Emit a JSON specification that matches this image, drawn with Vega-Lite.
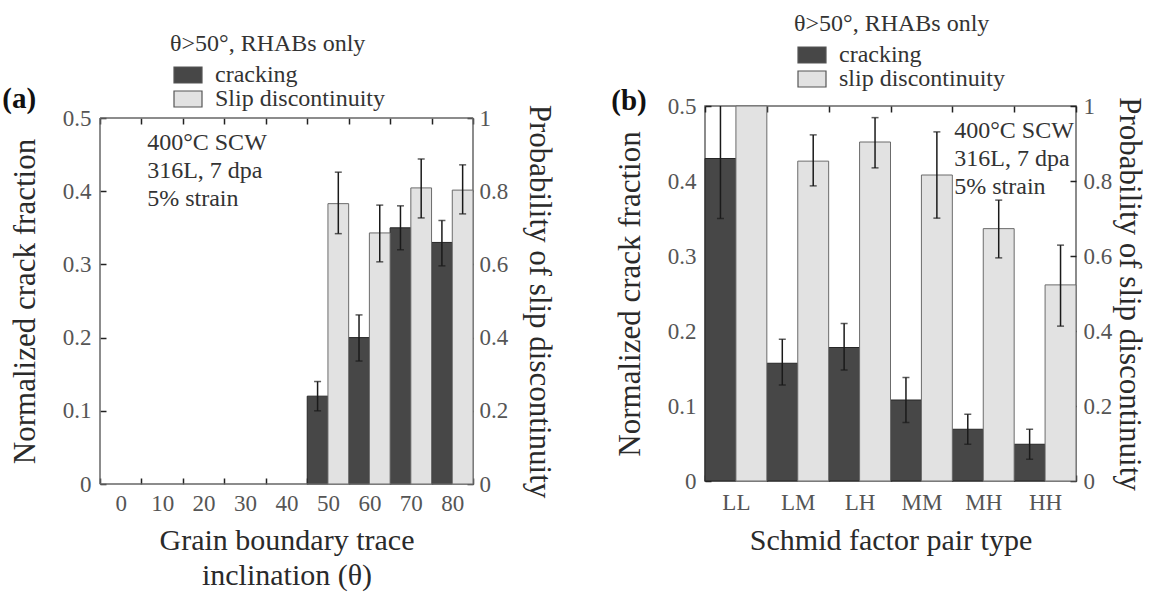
{
  "$schema": "https://vega.github.io/schema/vega-lite/v6.json",
  "background": "white",
  "padding": {"left": 2, "top": 11, "right": 5, "bottom": 5},
  "config": {
    "font": "Liberation Serif",
    "view": {"stroke": "#666", "strokeWidth": 1.5},
    "axis": {
      "grid": false, "domain": false, "ticks": true, "zindex": 1, "offset": -6,
      "labelFont": "Liberation Serif", "titleFont": "Liberation Serif",
      "labelFontSize": 23, "titleFontSize": 30, "titleFontWeight": "normal",
      "labelColor": "#555", "titleColor": "#2a2a2a",
      "tickColor": "#222", "tickSize": 6, "tickWidth": 1.5, "tickOpacity": 1
    },
    "axisY": {"titleFontSize": 31},
    "legend": {
      "labelFont": "Liberation Serif", "titleFont": "Liberation Serif",
      "labelFontSize": 24, "titleFontSize": 24, "titleFontWeight": "normal",
      "labelColor": "#333", "titleColor": "#333", "labelLimit": 0, "titleLimit": 0,
      "symbolType": "M-1.75,-1H1.75V1H-1.75Z", "symbolSize": 256,
      "symbolStrokeColor": "#555", "symbolStrokeWidth": 1.2,
      "symbolOffset": 6, "labelOffset": 15, "rowPadding": 0, "titlePadding": 7
    },
    "title": {"font": "Liberation Serif", "fontSize": 29, "fontWeight": "bold", "color": "#111", "anchor": "start", "frame": "bounds"}
  },
  "datasets": {
    "a": [
      {"cat": "50", "series": "cracking", "value": 0.12, "lo": 0.10, "hi": 0.14},
      {"cat": "60", "series": "cracking", "value": 0.20, "lo": 0.168, "hi": 0.231},
      {"cat": "70", "series": "cracking", "value": 0.35, "lo": 0.32, "hi": 0.38},
      {"cat": "80", "series": "cracking", "value": 0.33, "lo": 0.298, "hi": 0.36},
      {"cat": "50", "series": "Slip discontinuity", "value": 0.766, "lo": 0.684, "hi": 0.852},
      {"cat": "60", "series": "Slip discontinuity", "value": 0.686, "lo": 0.607, "hi": 0.762},
      {"cat": "70", "series": "Slip discontinuity", "value": 0.809, "lo": 0.727, "hi": 0.888},
      {"cat": "80", "series": "Slip discontinuity", "value": 0.803, "lo": 0.738, "hi": 0.872}
    ],
    "b": [
      {"cat": "LL", "series": "cracking", "value": 0.43, "lo": 0.35, "hi": 0.51},
      {"cat": "LM", "series": "cracking", "value": 0.157, "lo": 0.128, "hi": 0.189},
      {"cat": "LH", "series": "cracking", "value": 0.178, "lo": 0.148, "hi": 0.21},
      {"cat": "MM", "series": "cracking", "value": 0.108, "lo": 0.078, "hi": 0.138},
      {"cat": "MH", "series": "cracking", "value": 0.069, "lo": 0.049, "hi": 0.089},
      {"cat": "HH", "series": "cracking", "value": 0.049, "lo": 0.029, "hi": 0.069},
      {"cat": "LL", "series": "slip discontinuity", "value": 1.0, "lo": null, "hi": null},
      {"cat": "LM", "series": "slip discontinuity", "value": 0.853, "lo": 0.787, "hi": 0.923},
      {"cat": "LH", "series": "slip discontinuity", "value": 0.904, "lo": 0.835, "hi": 0.969},
      {"cat": "MM", "series": "slip discontinuity", "value": 0.816, "lo": 0.701, "hi": 0.931},
      {"cat": "MH", "series": "slip discontinuity", "value": 0.673, "lo": 0.595, "hi": 0.749},
      {"cat": "HH", "series": "slip discontinuity", "value": 0.523, "lo": 0.413, "hi": 0.629}
    ]
  },
  "hconcat": [
    {
      "title": {"text": "(a)", "dy": 86, "dx": -7},
      "width": 373,
      "height": 378,
      "view": {"stroke": null},
      "layer": [
        {
          "layer": [
            {
              "data": {"name": "a"},
              "transform": [{"filter": "datum.series === 'cracking'"}],
              "mark": {"type": "bar", "stroke": "#262626", "strokeWidth": 1},
              "encoding": {
                "x": {"field": "cat", "type": "nominal", "scale": {"domain": ["0","10","20","30","40","50","60","70","80"], "paddingInner": 0, "paddingOuter": 0},
                      "axis": {"orient": "bottom", "title": ["Grain boundary trace", "inclination (θ)"], "labelAngle": 0, "tickBand": "extent", "labelPadding": 8, "titlePadding": 10, "titleLineHeight": 35}},
                "xOffset": {"field": "series", "type": "nominal", "scale": {"domain": ["cracking", "Slip discontinuity"], "paddingInner": 0, "paddingOuter": 0}},
                "y": {"field": "value", "type": "quantitative", "title": "Normalized crack fraction", "scale": {"domain": [0, 0.5], "nice": false, "range": [378, 12]},
                      "axis": {"orient": "left", "values": [0, 0.1, 0.2, 0.3, 0.4, 0.5], "format": ".1~f", "labelPadding": 9, "titlePadding": 21}},
                "color": {"field": "series", "type": "nominal", "scale": {"domain": ["cracking", "Slip discontinuity"], "range": ["#474747", "#e2e2e2"]},
                          "legend": {"orient": "none", "legendX": 70, "legendY": -74, "title": "θ>50°, RHABs only"}}
              }
            },
            {
              "data": {"name": "a"},
              "transform": [{"filter": "datum.series === 'cracking'"}],
              "mark": {"type": "rule", "color": "#1a1a1a", "strokeWidth": 1.5},
              "encoding": {
                "x": {"field": "cat", "type": "nominal"},
                "xOffset": {"field": "series", "type": "nominal"},
                "y": {"field": "lo", "type": "quantitative", "title": "Normalized crack fraction"},
                "y2": {"field": "hi"}
              }
            },
            {
              "data": {"name": "a"},
              "transform": [{"filter": "datum.series === 'cracking'"}],
              "mark": {"type": "tick", "color": "#1a1a1a", "thickness": 1.5, "size": 7, "orient": "horizontal"},
              "encoding": {
                "x": {"field": "cat", "type": "nominal"},
                "xOffset": {"field": "series", "type": "nominal"},
                "y": {"field": "lo", "type": "quantitative", "title": "Normalized crack fraction"}
              }
            },
            {
              "data": {"name": "a"},
              "transform": [{"filter": "datum.series === 'cracking'"}],
              "mark": {"type": "tick", "color": "#1a1a1a", "thickness": 1.5, "size": 7, "orient": "horizontal"},
              "encoding": {
                "x": {"field": "cat", "type": "nominal"},
                "xOffset": {"field": "series", "type": "nominal"},
                "y": {"field": "hi", "type": "quantitative", "title": "Normalized crack fraction"}
              }
            },
            {
              "data": {"values": [{}]},
              "mark": {"type": "text", "align": "left", "baseline": "top", "fontSize": 24, "lineHeight": 28, "dx": -15, "color": "#333", "font": "Liberation Serif"},
              "encoding": {
                "x": {"datum": "10", "type": "nominal"},
                "y": {"datum": 0.482, "type": "quantitative"},
                "text": {"value": ["400°C SCW", "316L, 7 dpa", "5% strain"]}
              }
            },
            {
              "data": {"values": [{}]},
              "mark": {"type": "rule", "color": "#666", "strokeWidth": 1.5},
              "encoding": {"y": {"datum": 0.5, "type": "quantitative"}}
            },
            {
              "data": {"values": [{}]},
              "mark": {"type": "rule", "color": "#666", "strokeWidth": 1.5},
              "encoding": {"y": {"datum": 0, "type": "quantitative"}}
            },
            {
              "data": {"values": [{}]},
              "mark": {"type": "rule", "color": "#666", "strokeWidth": 1.5},
              "encoding": {
                "x": {"datum": "0", "type": "nominal", "bandPosition": 0},
                "y": {"datum": 0, "type": "quantitative"},
                "y2": {"datum": 0.5}
              }
            },
            {
              "data": {"values": [{}]},
              "mark": {"type": "rule", "color": "#666", "strokeWidth": 1.5},
              "encoding": {
                "x": {"datum": "80", "type": "nominal", "bandPosition": 1},
                "y": {"datum": 0, "type": "quantitative"},
                "y2": {"datum": 0.5}
              }
            }
          ]
        },
        {
          "layer": [
            {
              "data": {"name": "a"},
              "transform": [{"filter": "datum.series !== 'cracking'"}],
              "mark": {"type": "bar", "stroke": "#6b6b6b", "strokeWidth": 1},
              "encoding": {
                "x": {"field": "cat", "type": "nominal", "scale": {"domain": ["0","10","20","30","40","50","60","70","80"], "paddingInner": 0, "paddingOuter": 0},
                      "axis": {"orient": "top", "offset": -18, "title": null, "labels": false, "tickBand": "extent"}},
                "xOffset": {"field": "series", "type": "nominal", "scale": {"domain": ["cracking", "Slip discontinuity"], "paddingInner": 0, "paddingOuter": 0}},
                "y": {"field": "value", "type": "quantitative", "title": "Probability of slip discontinuity", "scale": {"domain": [0, 1], "nice": false, "range": [378, 12]},
                      "axis": {"orient": "right", "values": [0, 0.2, 0.4, 0.6, 0.8, 1], "format": ".1~f", "labelPadding": 6, "titlePadding": 15}},
                "color": {"field": "series", "type": "nominal"}
              }
            },
            {
              "data": {"name": "a"},
              "transform": [{"filter": "datum.series !== 'cracking'"}],
              "mark": {"type": "rule", "color": "#1a1a1a", "strokeWidth": 1.5},
              "encoding": {
                "x": {"field": "cat", "type": "nominal"},
                "xOffset": {"field": "series", "type": "nominal"},
                "y": {"field": "lo", "type": "quantitative", "title": "Probability of slip discontinuity"},
                "y2": {"field": "hi"}
              }
            },
            {
              "data": {"name": "a"},
              "transform": [{"filter": "datum.series !== 'cracking'"}],
              "mark": {"type": "tick", "color": "#1a1a1a", "thickness": 1.5, "size": 7, "orient": "horizontal"},
              "encoding": {
                "x": {"field": "cat", "type": "nominal"},
                "xOffset": {"field": "series", "type": "nominal"},
                "y": {"field": "lo", "type": "quantitative", "title": "Probability of slip discontinuity"}
              }
            },
            {
              "data": {"name": "a"},
              "transform": [{"filter": "datum.series !== 'cracking'"}],
              "mark": {"type": "tick", "color": "#1a1a1a", "thickness": 1.5, "size": 7, "orient": "horizontal"},
              "encoding": {
                "x": {"field": "cat", "type": "nominal"},
                "xOffset": {"field": "series", "type": "nominal"},
                "y": {"field": "hi", "type": "quantitative", "title": "Probability of slip discontinuity"}
              }
            }
          ]
        }
      ],
      "resolve": {"scale": {"y": "independent", "x": "independent", "xOffset": "independent"}, "axis": {"x": "independent", "y": "independent"}}
    },
    {
      "title": {"text": "(b)", "dy": 108, "dx": -3},
      "width": 371,
      "height": 375,
      "layer": [
        {
          "layer": [
            {
              "data": {"name": "b"},
              "transform": [{"filter": "datum.series === 'cracking'"}],
              "mark": {"type": "bar", "stroke": "#262626", "strokeWidth": 1},
              "encoding": {
                "x": {"field": "cat", "type": "nominal", "scale": {"domain": ["LL","LM","LH","MM","MH","HH"], "paddingInner": 0, "paddingOuter": 0},
                      "axis": {"orient": "bottom", "title": "Schmid factor pair type", "labelAngle": 0, "tickBand": "extent", "labelPadding": 10, "titlePadding": 11}},
                "xOffset": {"field": "series", "type": "nominal", "scale": {"domain": ["cracking", "slip discontinuity"], "paddingInner": 0, "paddingOuter": 0}},
                "y": {"field": "value", "type": "quantitative", "title": "Normalized crack fraction", "scale": {"domain": [0, 0.5], "nice": false},
                      "axis": {"orient": "left", "values": [0, 0.1, 0.2, 0.3, 0.4, 0.5], "format": ".1~f", "labelPadding": 9, "titlePadding": 21}},
                "color": {"field": "series", "type": "nominal", "scale": {"domain": ["cracking", "slip discontinuity"], "range": ["#474747", "#e2e2e2"]},
                          "legend": {"orient": "none", "legendX": 89, "legendY": -94, "title": "θ>50°, RHABs only"}}
              }
            },
            {
              "data": {"name": "b"},
              "transform": [{"filter": "datum.series === 'cracking'"}],
              "mark": {"type": "rule", "color": "#1a1a1a", "strokeWidth": 1.5, "clip": true},
              "encoding": {
                "x": {"field": "cat", "type": "nominal"},
                "xOffset": {"field": "series", "type": "nominal"},
                "y": {"field": "lo", "type": "quantitative", "title": "Normalized crack fraction"},
                "y2": {"field": "hi"}
              }
            },
            {
              "data": {"name": "b"},
              "transform": [{"filter": "datum.series === 'cracking'"}],
              "mark": {"type": "tick", "color": "#1a1a1a", "thickness": 1.5, "size": 7, "orient": "horizontal", "clip": true},
              "encoding": {
                "x": {"field": "cat", "type": "nominal"},
                "xOffset": {"field": "series", "type": "nominal"},
                "y": {"field": "lo", "type": "quantitative", "title": "Normalized crack fraction"}
              }
            },
            {
              "data": {"name": "b"},
              "transform": [{"filter": "datum.series === 'cracking'"}],
              "mark": {"type": "tick", "color": "#1a1a1a", "thickness": 1.5, "size": 7, "orient": "horizontal", "clip": true},
              "encoding": {
                "x": {"field": "cat", "type": "nominal"},
                "xOffset": {"field": "series", "type": "nominal"},
                "y": {"field": "hi", "type": "quantitative", "title": "Normalized crack fraction"}
              }
            },
            {
              "data": {"values": [{}]},
              "mark": {"type": "text", "align": "left", "baseline": "top", "fontSize": 24, "lineHeight": 28, "dx": -29, "color": "#333", "font": "Liberation Serif"},
              "encoding": {
                "x": {"datum": "MH", "type": "nominal"},
                "y": {"datum": 0.483, "type": "quantitative"},
                "text": {"value": ["400°C SCW", "316L, 7 dpa", "5% strain"]}
              }
            }
          ]
        },
        {
          "layer": [
            {
              "data": {"name": "b"},
              "transform": [{"filter": "datum.series !== 'cracking'"}],
              "mark": {"type": "bar", "stroke": "#6b6b6b", "strokeWidth": 1},
              "encoding": {
                "x": {"field": "cat", "type": "nominal", "scale": {"domain": ["LL","LM","LH","MM","MH","HH"], "paddingInner": 0, "paddingOuter": 0},
                      "axis": {"orient": "top", "title": null, "labels": false, "tickBand": "extent"}},
                "xOffset": {"field": "series", "type": "nominal", "scale": {"domain": ["cracking", "slip discontinuity"], "paddingInner": 0, "paddingOuter": 0}},
                "y": {"field": "value", "type": "quantitative", "title": "Probability of slip discontinuity", "scale": {"domain": [0, 1], "nice": false},
                      "axis": {"orient": "right", "values": [0, 0.2, 0.4, 0.6, 0.8, 1], "format": ".1~f", "labelPadding": 7, "titlePadding": 1}},
                "color": {"field": "series", "type": "nominal"}
              }
            },
            {
              "data": {"name": "b"},
              "transform": [{"filter": "datum.series !== 'cracking'"}],
              "mark": {"type": "rule", "color": "#1a1a1a", "strokeWidth": 1.5, "clip": true},
              "encoding": {
                "x": {"field": "cat", "type": "nominal"},
                "xOffset": {"field": "series", "type": "nominal"},
                "y": {"field": "lo", "type": "quantitative", "title": "Probability of slip discontinuity"},
                "y2": {"field": "hi"}
              }
            },
            {
              "data": {"name": "b"},
              "transform": [{"filter": "datum.series !== 'cracking'"}],
              "mark": {"type": "tick", "color": "#1a1a1a", "thickness": 1.5, "size": 7, "orient": "horizontal", "clip": true},
              "encoding": {
                "x": {"field": "cat", "type": "nominal"},
                "xOffset": {"field": "series", "type": "nominal"},
                "y": {"field": "lo", "type": "quantitative", "title": "Probability of slip discontinuity"}
              }
            },
            {
              "data": {"name": "b"},
              "transform": [{"filter": "datum.series !== 'cracking'"}],
              "mark": {"type": "tick", "color": "#1a1a1a", "thickness": 1.5, "size": 7, "orient": "horizontal", "clip": true},
              "encoding": {
                "x": {"field": "cat", "type": "nominal"},
                "xOffset": {"field": "series", "type": "nominal"},
                "y": {"field": "hi", "type": "quantitative", "title": "Probability of slip discontinuity"}
              }
            }
          ]
        }
      ],
      "resolve": {"scale": {"y": "independent", "x": "independent", "xOffset": "independent"}, "axis": {"x": "independent", "y": "independent"}}
    }
  ],
  "spacing": 55,
  "align": "none",
  "resolve": {"scale": {"color": "independent"}, "legend": {"color": "independent"}}
}
